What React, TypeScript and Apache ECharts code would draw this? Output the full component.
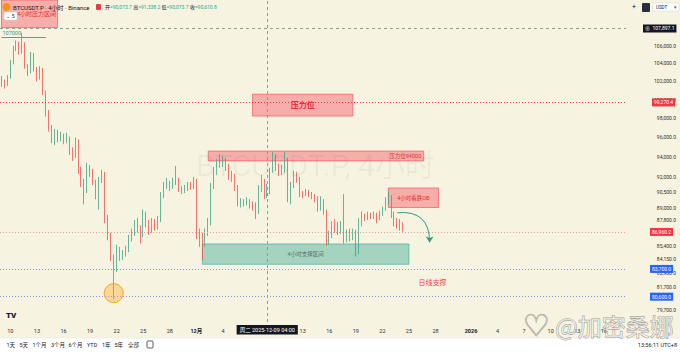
import React, { useEffect, useRef } from 'react';
import * as echarts from 'echarts';

// ---------- data ----------
const START_UTC = Date.UTC(2025, 10, 9, 0, 0); // first bar (UTC+8 wall clock)
const BAR_HOURS = 8;
const AXIS_BARS = 212;

// [open, close, low, high] in thousand USDT, one row per 8-hour bar
const candles: number[][] = [
  [102.3, 101.8, 101.4, 102.6], [101.8, 101.6, 101.2, 102.2], [101.6, 102.4, 101.5, 102.7],
  [102.4, 104.1, 102.3, 104.4], [104.1, 105.8, 103.9, 106.0], [105.8, 106.3, 105.4, 106.6],
  [106.3, 105.3, 105.0, 106.5], [105.3, 106.2, 105.1, 107.5], [106.2, 103.6, 103.4, 106.4],
  [103.6, 103.0, 102.6, 103.9], [103.0, 105.0, 102.9, 105.3], [105.0, 103.4, 103.1, 105.2],
  [103.4, 102.4, 102.0, 103.6], [102.4, 103.3, 102.2, 103.7], [103.3, 100.8, 100.5, 103.5],
  [100.8, 98.6, 98.2, 101.0], [98.6, 97.0, 96.6, 98.9], [97.0, 95.9, 95.4, 97.3],
  [95.9, 96.6, 95.2, 96.9], [96.6, 95.9, 95.5, 96.8], [95.9, 96.2, 95.6, 96.6],
  [96.2, 95.8, 95.3, 96.4], [95.8, 96.0, 95.4, 96.5], [96.0, 94.6, 94.2, 96.1],
  [94.6, 94.0, 93.6, 95.0], [94.0, 95.6, 93.9, 96.0], [95.6, 92.6, 92.3, 95.8],
  [92.6, 91.4, 91.0, 93.0], [91.4, 90.6, 89.3, 91.8], [90.6, 92.9, 90.4, 93.4],
  [92.9, 92.5, 92.0, 93.2], [92.5, 91.5, 91.2, 92.8], [91.5, 90.4, 89.8, 91.7],
  [90.4, 91.8, 88.8, 92.0], [91.8, 92.2, 91.4, 92.7], [92.2, 88.0, 87.5, 92.5],
  [88.0, 86.3, 85.9, 88.3], [86.3, 84.4, 84.0, 86.6], [84.4, 83.3, 80.6, 84.6],
  [83.3, 85.0, 83.0, 85.5], [85.0, 84.4, 84.0, 85.3], [84.4, 84.7, 84.1, 85.0],
  [84.7, 85.0, 84.4, 85.4], [85.0, 86.0, 84.8, 86.4], [86.0, 86.7, 85.8, 87.0],
  [86.7, 87.4, 86.3, 87.8], [87.4, 87.0, 86.6, 88.0], [87.0, 86.4, 85.6, 87.3],
  [86.4, 88.3, 86.2, 88.8], [88.3, 87.5, 87.1, 88.6], [87.5, 87.0, 86.4, 87.8],
  [87.0, 87.6, 86.6, 88.0], [87.6, 87.2, 86.8, 87.9], [87.2, 87.8, 86.9, 88.2],
  [87.8, 90.2, 87.6, 90.5], [90.2, 91.2, 89.9, 91.5], [91.2, 91.4, 90.8, 91.9],
  [91.4, 91.0, 90.6, 91.6], [91.0, 91.5, 90.8, 91.9], [91.5, 91.6, 91.2, 93.1],
  [91.6, 90.8, 90.5, 91.9], [90.8, 90.6, 90.3, 91.1], [90.6, 90.9, 90.4, 91.2],
  [90.9, 91.2, 90.6, 91.5], [91.2, 91.0, 90.7, 91.5], [91.0, 91.6, 90.8, 92.0],
  [91.6, 86.5, 86.0, 91.8], [86.5, 86.0, 85.3, 87.0], [86.0, 85.7, 84.1, 86.6],
  [85.7, 86.6, 85.3, 87.0], [86.6, 87.5, 86.3, 88.0], [87.5, 91.0, 87.3, 91.4],
  [91.0, 92.6, 90.8, 93.0], [92.6, 93.4, 92.2, 93.8], [93.4, 93.5, 92.9, 94.3],
  [93.5, 93.6, 93.0, 94.1], [93.6, 93.0, 92.6, 93.9], [93.0, 92.4, 91.7, 93.3],
  [92.4, 92.0, 91.5, 92.6], [92.0, 91.0, 90.6, 92.3], [91.0, 89.5, 89.1, 91.2],
  [89.5, 89.6, 89.0, 89.9], [89.6, 89.4, 89.1, 89.8], [89.4, 89.7, 89.2, 90.0],
  [89.7, 89.3, 88.9, 89.8], [89.3, 89.1, 88.7, 89.6], [89.1, 88.6, 87.9, 89.5],
  [88.6, 90.8, 88.4, 91.2], [90.8, 91.5, 90.5, 92.2], [91.5, 90.2, 89.8, 91.8],
  [90.2, 90.6, 89.9, 91.3], [90.6, 92.6, 90.3, 92.9], [92.6, 94.0, 92.4, 94.5],
  [94.0, 93.0, 92.6, 94.3], [93.0, 92.5, 92.1, 93.3], [92.5, 92.7, 92.2, 93.2],
  [92.7, 93.7, 92.4, 94.5], [93.7, 90.0, 89.5, 93.9], [90.0, 91.2, 89.3, 91.5],
  [91.2, 92.2, 90.9, 92.6], [92.2, 91.8, 91.4, 92.5], [91.8, 90.4, 90.0, 92.0],
  [90.4, 90.3, 89.9, 90.6], [90.3, 90.5, 90.1, 90.8], [90.5, 90.3, 90.0, 90.7],
  [90.3, 90.1, 89.8, 90.5], [90.1, 89.9, 89.5, 90.3], [89.9, 89.0, 88.6, 90.1],
  [89.0, 89.6, 88.7, 90.1], [89.6, 88.6, 88.3, 89.8], [88.6, 86.0, 85.4, 88.8],
  [86.0, 86.4, 85.5, 86.8], [86.4, 87.3, 86.1, 87.7], [87.3, 87.0, 86.6, 87.9],
  [87.0, 86.8, 86.4, 87.6], [86.8, 87.2, 86.5, 87.7], [87.2, 86.0, 85.6, 90.3],
  [86.0, 86.5, 85.7, 86.9], [86.5, 86.2, 85.8, 87.0], [86.2, 86.7, 85.9, 87.0],
  [86.7, 84.7, 84.4, 86.9], [84.7, 87.7, 84.6, 88.0], [87.7, 88.2, 87.2, 88.6],
  [88.2, 88.0, 87.7, 88.4], [88.0, 88.3, 87.8, 88.6], [88.3, 88.1, 87.9, 88.5],
  [88.1, 88.3, 87.9, 88.6], [88.3, 88.0, 87.5, 88.5], [88.0, 88.4, 87.8, 88.7],
  [88.4, 88.9, 88.2, 89.1], [88.9, 89.7, 88.7, 90.0], [89.7, 89.9, 89.3, 90.5],
  [89.9, 88.3, 88.0, 90.2], [88.3, 87.6, 87.2, 88.6], [87.6, 87.5, 87.0, 88.0],
  [87.5, 87.3, 86.8, 87.9], [87.3, 86.9602, 86.7, 87.6],
];

const yTickValues = [106000, 104000, 102000, 100000, 98000, 96000, 94000, 92000, 90500, 89000, 87800, 85400, 84150, 82900, 81700, 79700];
const yAxisTop = 111380;
const yAxisBottom = 78640;

const xTickDates = ['2025-11-10', '2025-11-13', '2025-11-16', '2025-11-19', '2025-11-22', '2025-11-25', '2025-11-28', '2025-12-01', '2025-12-04', '2025-12-07', '2025-12-10', '2025-12-13', '2025-12-16', '2025-12-19', '2025-12-22', '2025-12-25', '2025-12-28', '2026-01-01', '2026-01-04', '2026-01-07', '2026-01-10', '2026-01-13', '2026-01-16'];
const xTickTexts = ['10', '13', '16', '19', '22', '25', '28', '12月', '4', '7', '10', '13', '16', '19', '22', '25', '28', '2026', '4', '7', '10', '13', '16'];

const resistanceLevel = 99270.4;
const lastPrice = 86960.2;
const blueLevels = [83700, 80600];
const crosshairPrice = 107897.1;
const crosshairBar = 90;
const crosshairText = '周二 2025-12-09 04:00';
const highMarkPrice = 107000;

// zones: [fromBar, toBar, priceA, priceB]
const zoneTopLeft = [0, 19, 108100, yAxisTop];
const zonePressure = [85, 119, 100600, 98250];
const zone94000 = [70, 143, 94600, 93600];
const zoneOB = [131, 148, 90900, 89000];
const zoneSupport = [68, 138, 85560, 83700];
const arrowPath = [[134, 88500], [145, 85700]];
const lowCircle = [38, 81130];
const dailySupportLabel = [146, 82020];

const legendOHLC = ['90,073.7', '91,338.2', '90,073.7', '90,610.8'];
const rangeButtons = ['1天', '5天', '1个月', '3个月', '6个月', 'YTD', '1年', '5年', '全部'];

// ---------- helpers ----------
const L = (p: number) => Math.log(p);
const fmt = (p: number) => p.toLocaleString('en-US', { minimumFractionDigits: 1, maximumFractionDigits: 1 });
const pad = (n: number) => String(n).padStart(2, '0');
const FONT = 'Roboto, "Noto Sans CJK SC", sans-serif';

const categories = Array.from({ length: AXIS_BARS }, (_, i) => {
  const d = new Date(START_UTC + i * BAR_HOURS * 3600e3);
  return `${d.getUTCFullYear()}-${pad(d.getUTCMonth() + 1)}-${pad(d.getUTCDate())} ${pad(d.getUTCHours())}:00`;
});
const tickMap = new Map<string, string>(xTickDates.map((d, i) => [d + ' 00:00', xTickTexts[i]]));

const boxLabel = (bg: string, text: string, distance = 24) => ({
  show: true, position: 'end', distance, formatter: text, color: '#fff', backgroundColor: bg,
  padding: [1, 2, 1, 2], fontSize: 5, lineHeight: 6, fontFamily: FONT,
});

const zone = (z: number[], fill: string, border: string, label: any) => [
  { xAxis: z[0], yAxis: L(z[2]), itemStyle: { color: fill, borderColor: border, borderWidth: 1 }, label: { show: true, fontFamily: FONT, ...label } },
  { xAxis: z[1], yAxis: L(z[3]) },
];

const RED_FILL = 'rgba(242,54,69,0.36)';
const RED_BORDER = 'rgba(242,54,69,0.55)';
const GREEN_FILL = 'rgba(8,153,129,0.35)';
const GREEN_BORDER = 'rgba(8,153,129,0.45)';

export default function App() {
  const ref = useRef<HTMLDivElement>(null);
  useEffect(() => {
    document.body.style.margin = '0';
    const chart = echarts.init(ref.current!, null, { renderer: 'svg', width: 680, height: 352 });
    const option: any = {
      animation: false,
      backgroundColor: '#f7f3e1',
      textStyle: { fontFamily: FONT },
      grid: { left: 0, right: 54, top: 0, bottom: 30, containLabel: false },
      xAxis: {
        type: 'category', data: categories, boundaryGap: true,
        axisLine: { show: false }, axisTick: { show: false }, splitLine: { show: false },
        axisLabel: {
          interval: (_i: number, v: string) => tickMap.has(v),
          formatter: (v: string) => {
            const t = tickMap.get(v) ?? '';
            return t === '12月' || t === '2026' ? `{b|${t}}` : t;
          },
          rich: { b: { fontWeight: 'bold', fontSize: 5.5, color: '#131722', fontFamily: FONT } },
          fontSize: 5.5, color: '#2f2f2f', margin: 6, fontFamily: FONT,
        },
      },
      yAxis: {
        type: 'value', position: 'right', min: L(yAxisBottom), max: L(yAxisTop),
        splitLine: { show: false }, axisLine: { show: false }, axisTick: { show: false },
        axisLabel: {
          customValues: yTickValues.map(L),
          formatter: (v: number) => fmt(Math.round(Math.exp(v) * 10) / 10),
          align: 'right', margin: 50, fontSize: 5, color: '#2f2f2f', fontFamily: FONT,
        },
      },
      series: [
        {
          type: 'candlestick',
          barWidth: 1,
          data: candles.map((c) => c.map((v) => L(v * 1000))),
          itemStyle: { color: '#3da788', color0: '#ef5350', borderColor: '#3da788', borderColor0: '#ef5350', borderWidth: 0.8 },
          markArea: {
            silent: true,
            data: [
              zone(zoneTopLeft, RED_FILL, RED_BORDER, { position: 'insideRight', distance: 2, formatter: '4小时压力区间', color: '#e5303c', fontSize: 6 }),
              zone(zonePressure, RED_FILL, RED_BORDER, { position: 'inside', formatter: '压力位', color: '#e0303a', fontSize: 8, fontWeight: 'bold' }),
              zone(zone94000, RED_FILL, RED_BORDER, { position: 'insideRight', distance: 3, formatter: '压力位94000', color: '#e0303a', fontSize: 5.5 }),
              zone(zoneOB, RED_FILL, RED_BORDER, { position: 'inside', formatter: '4小时看跌OB', color: '#e0303a', fontSize: 5.5 }),
              zone(zoneSupport, GREEN_FILL, GREEN_BORDER, { position: 'inside', formatter: '4小时支撑区间', color: '#5a6e68', fontSize: 5.5 }),
            ],
          },
          markLine: {
            silent: true, symbol: 'none', animation: false,
            data: [
              { yAxis: L(crosshairPrice), lineStyle: { color: '#9598a1', type: [3, 3], width: 1 }, label: boxLabel('#131722', '⊕  ' + fmt(crosshairPrice), 17) },
              { yAxis: L(resistanceLevel), lineStyle: { color: '#f23645', type: [1, 2], width: 1 }, label: boxLabel('#f23645', fmt(resistanceLevel), 26) },
              { yAxis: L(lastPrice), lineStyle: { color: '#f59aa0', type: [1, 2], width: 1 }, label: boxLabel('#f23645', fmt(lastPrice), 24) },
              ...blueLevels.map((p) => ({ yAxis: L(p), lineStyle: { color: '#7d95e8', type: [1, 2], width: 1 }, label: boxLabel('#2962ff', fmt(p), 24) })),
              {
                xAxis: crosshairBar, lineStyle: { color: '#9598a1', type: [3, 3], width: 1 },
                label: { show: true, position: 'start', distance: 3, formatter: crosshairText, color: '#fff', backgroundColor: '#131722', padding: [2, 3, 2, 3], fontSize: 5.5, fontFamily: FONT },
              },
              [
                {
                  coord: [0, L(highMarkPrice)], lineStyle: { color: '#4aa88a', type: 'solid', width: 1 },
                  label: { show: true, position: 'insideStartTop', distance: 1, formatter: String(highMarkPrice), color: '#3d9a7d', fontSize: 5.5, fontFamily: FONT },
                },
                { coord: [15, L(highMarkPrice)] },
              ],
            ],
          },
          markPoint: {
            silent: true, animation: false,
            data: [
              { coord: [lowCircle[0], L(lowCircle[1])], symbol: 'circle', symbolSize: 19, itemStyle: { color: 'rgba(255,167,38,0.38)', borderColor: '#f5a623', borderWidth: 1 }, label: { show: false } },
              { coord: [dailySupportLabel[0], L(dailySupportLabel[1])], symbol: 'circle', symbolSize: 0, label: { show: true, position: 'inside', formatter: '日线支撑', color: '#f23645', fontSize: 7, fontFamily: FONT } },
            ],
          },
        },
        {
          type: 'lines', coordinateSystem: 'cartesian2d', xAxisIndex: 0, yAxisIndex: 0, silent: true, z: 5,
          symbol: ['none', 'arrow'], symbolSize: 6,
          lineStyle: { color: '#2e9d8a', width: 1, curveness: 0.55, opacity: 1 },
          data: [{ coords: arrowPath.map(([i, p]) => [i, L(p)]) }],
        },
      ],
      graphic: [
        { type: 'text', x: 196, y: 165, z: 0, silent: true, style: { text: 'BTCUSDT.P, 4小时', fontSize: 30, fontFamily: FONT, fill: 'rgba(70,70,50,0.06)', verticalAlign: 'middle' } },
        // legend
        { type: 'circle', z: 100, shape: { cx: 6.5, cy: 7, r: 4 }, style: { fill: '#f7931a' } },
        { type: 'text', z: 100, x: 13, y: 7, style: { text: 'BTCUSDT.P · 4小时 · Binance', fontSize: 6, fontFamily: FONT, fill: '#131722', verticalAlign: 'middle' } },
        { type: 'rect', z: 100, shape: { x: 96, y: 4, width: 5, height: 6, r: 1 }, style: { fill: '#f23645' } },
        {
          type: 'text', z: 100, x: 105, y: 7,
          style: {
            text: ['开', '高', '低', '收'].map((k, i) => `{l|${k}}{v|=${legendOHLC[i]}}`).join(' '),
            rich: { l: { fontSize: 5, fill: '#131722', fontFamily: FONT }, v: { fontSize: 5, fill: '#22ab94', fontFamily: FONT } },
            fontSize: 5, verticalAlign: 'middle',
          },
        },
        { type: 'rect', z: 100, shape: { x: 4, y: 12, width: 13, height: 8, r: 1.5 }, style: { fill: '#ffffff', stroke: '#d1d4dc', lineWidth: 0.5 } },
        { type: 'text', z: 101, x: 10.5, y: 16, style: { text: '⌄ 5', fontSize: 5, fontFamily: FONT, fill: '#131722', align: 'center', verticalAlign: 'middle' } },
        // top right controls
        { type: 'text', z: 100, x: 634, y: 7, style: { text: '+', fontSize: 7, fontFamily: FONT, fill: '#131722', align: 'center', verticalAlign: 'middle' } },
        { type: 'rect', z: 100, shape: { x: 642, y: 3, width: 8, height: 9, r: 1 }, style: { fill: '#2a2e39' } },
        { type: 'rect', z: 100, shape: { x: 653, y: 3, width: 26, height: 8, r: 1 }, style: { fill: '#ffffff', stroke: '#d1d4dc', lineWidth: 0.5 } },
        { type: 'text', z: 101, x: 656, y: 7, style: { text: 'USDT', fontSize: 4.5, fontFamily: FONT, fill: '#131722', verticalAlign: 'middle' } },
        { type: 'text', z: 101, x: 675, y: 7, style: { text: '▾', fontSize: 4.5, fontFamily: FONT, fill: '#555', align: 'center', verticalAlign: 'middle' } },
        // TradingView logo
        { type: 'text', z: 100, x: 6, y: 315, style: { text: 'TV', fontSize: 8, fontWeight: 900, fontFamily: FONT, fill: '#131722', verticalAlign: 'middle' } },
        // bottom toolbar
        { type: 'rect', z: 90, shape: { x: 0, y: 338, width: 680, height: 14 }, style: { fill: '#ffffff' } },
        { type: 'line', z: 91, shape: { x1: 0, y1: 338, x2: 680, y2: 338 }, style: { stroke: '#e0e3eb', lineWidth: 0.5 } },
        ...rangeButtons.map((t, i) => ({
          type: 'text', z: 92, x: [6.5, 19.5, 32.5, 51, 68.5, 87, 102, 114.5, 128][i], y: 345,
          style: { text: t, fontSize: 5.5, fontFamily: FONT, fill: '#131722', verticalAlign: 'middle' },
        })),
        { type: 'rect', z: 92, shape: { x: 147, y: 341, width: 6, height: 7, r: 1 }, style: { fill: 'none', stroke: '#131722', lineWidth: 0.7 } },
        { type: 'text', z: 92, x: 677, y: 345, style: { text: '13:56:11 UTC+8', fontSize: 5.5, fontFamily: FONT, fill: '#131722', align: 'right', verticalAlign: 'middle' } },
        // watermark
        { type: 'text', z: 120, x: 536, y: 325, silent: true, style: { text: '♡', fontSize: 30, fontFamily: 'DejaVu Sans', fill: 'rgba(255,255,255,0.5)', stroke: 'rgba(80,80,80,0.55)', lineWidth: 0.8, align: 'center', verticalAlign: 'middle' } },
        { type: 'text', z: 120, x: 555, y: 325, silent: true, style: { text: '@加密桑娜', fontSize: 24, fontFamily: '"Noto Sans CJK SC", sans-serif', fill: 'rgba(255,255,255,0.5)', stroke: 'rgba(80,80,80,0.55)', lineWidth: 0.8, verticalAlign: 'middle' } },
      ],
    };
    chart.setOption(option);
    return () => chart.dispose();
  }, []);
  return <div ref={ref} style={{ position: 'fixed', left: 0, top: 0, width: 680, height: 352 }} />;
}
